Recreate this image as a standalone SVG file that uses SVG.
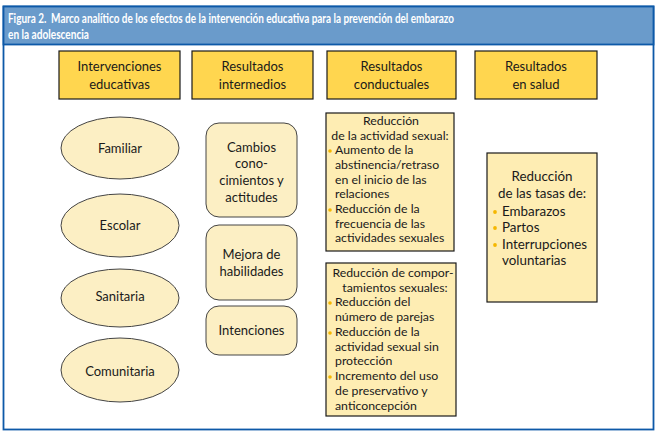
<svg xmlns="http://www.w3.org/2000/svg" width="657" height="435" viewBox="0 0 657 435">
<style>
text{font-family:Lato,"Open Sans","Liberation Sans",sans-serif;fill:#1a1a1a}
.t{font-size:13px}
.s{font-size:12.3px}
.m{font-size:13.4px}
.c{text-anchor:middle}
.hd{fill:#FFD64F;stroke:#1a1a1a;stroke-width:1.2}
.pl{fill:#FCEFC4;stroke:#444;stroke-width:1}
.bx{fill:#FEEDB3;stroke:#1a1a1a;stroke-width:1.2}
.b{fill:#F5B700}
.title{font-size:13.5px;font-weight:bold;fill:#fff}
</style>
<rect x="0" y="0" width="657" height="435" fill="#fff"/>
<g id="frame">
<rect x="3.5" y="6.5" width="650" height="423" fill="#fff" stroke="#0D59A8" stroke-width="1.8"/>
<rect x="3.5" y="6.5" width="650" height="38" fill="#6A9BCB" stroke="#0D59A8" stroke-width="1.8"/>
<text class="title" x="8" y="23" textLength="446" lengthAdjust="spacingAndGlyphs" xml:space="preserve">Figura 2.  Marco analítico de los efectos de la intervención educativa para la prevención del embarazo</text>
<text class="title" x="8" y="39" textLength="81" lengthAdjust="spacingAndGlyphs">en la adolescencia</text>
</g>
<g id="connectors"></g>
<g id="h1"><rect class="hd" x="59" y="51" width="121" height="48"/><text class="t c" x="119.5" y="71">Intervenciones</text><text class="t c" x="119.5" y="89">educativas</text></g>
<g id="h2"><rect class="hd" x="192" y="51" width="121" height="48"/><text class="t c" x="252.5" y="71">Resultados</text><text class="t c" x="252.5" y="89">intermedios</text></g>
<g id="h3"><rect class="hd" x="327" y="51" width="129" height="48"/><text class="t c" x="391.5" y="71">Resultados</text><text class="t c" x="391.5" y="89">conductuales</text></g>
<g id="h4"><rect class="hd" x="475" y="51" width="122" height="48"/><text class="t c" x="536" y="71">Resultados</text><text class="t c" x="536" y="89">en salud</text></g>
<g id="familiar"><ellipse class="pl" cx="120" cy="148" rx="59" ry="31"/><text class="t c" x="120" y="152.5">Familiar</text></g>
<g id="escolar"><ellipse class="pl" cx="120" cy="225.5" rx="59" ry="31.5"/><text class="t c" x="120" y="230">Escolar</text></g>
<g id="sanitaria"><ellipse class="pl" cx="120" cy="298" rx="59" ry="29"/><text class="t c" x="120" y="300.5">Sanitaria</text></g>
<g id="comunitaria"><ellipse class="pl" cx="120" cy="370" rx="59" ry="32"/><text class="t c" x="120" y="376">Comunitaria</text></g>
<g id="cambios"><rect class="pl" x="206" y="123" width="91" height="94" rx="13"/><text class="t c" x="251.5" y="152">Cambios</text><text class="t c" x="251.5" y="168">cono-</text><text class="t c" x="251.5" y="185">cimientos y</text><text class="t c" x="251.5" y="202">actitudes</text></g>
<g id="mejora"><rect class="pl" x="206" y="225" width="91" height="75" rx="13"/><text class="t c" x="251.5" y="259">Mejora de</text><text class="t c" x="251.5" y="276">habilidades</text></g>
<g id="intenciones"><rect class="pl" x="206" y="306" width="91" height="49" rx="13"/><text class="t c" x="251.5" y="335">Intenciones</text></g>
<g id="conductual1"><rect class="bx" x="326" y="113" width="128" height="138"/>
<text class="s c" x="391" y="125">Reducción</text>
<text class="s c" x="390" y="140">de la actividad sexual:</text>
<circle class="b" cx="330" cy="151" r="1.8"/><text class="s" x="335" y="154">Aumento de la</text>
<text class="s" x="335" y="169">abstinencia/retraso</text>
<text class="s" x="335" y="184">en el inicio de las</text>
<text class="s" x="335" y="198">relaciones</text>
<circle class="b" cx="330" cy="210" r="1.8"/><text class="s" x="335" y="213">Reducción de la</text>
<text class="s" x="335" y="228">frecuencia de las</text>
<text class="s" x="335" y="242">actividades sexuales</text>
</g>
<g id="conductual2"><rect class="bx" x="326" y="263" width="130" height="153"/>
<text class="s c" x="393" y="277">Reducción de compor-</text>
<text class="s c" x="395" y="292">tamientos sexuales:</text>
<circle class="b" cx="330" cy="303" r="1.8"/><text class="s" x="335" y="306">Reducción del</text>
<text class="s" x="335" y="321">número de parejas</text>
<circle class="b" cx="330" cy="333" r="1.8"/><text class="s" x="335" y="336">Reducción de la</text>
<text class="s" x="335" y="351">actividad sexual sin</text>
<text class="s" x="335" y="365">protección</text>
<circle class="b" cx="330" cy="377" r="1.8"/><text class="s" x="335" y="380">Incremento del uso</text>
<text class="s" x="335" y="395">de preservativo y</text>
<text class="s" x="335" y="410">anticoncepción</text>
</g>
<g id="salud"><rect class="bx" x="487" y="153" width="110" height="149"/>
<text class="m c" x="542" y="181">Reducción</text>
<text class="m c" x="542" y="198">de las tasas de:</text>
<circle class="b" cx="495" cy="212" r="1.9"/><text class="m" x="502" y="216">Embarazos</text>
<circle class="b" cx="495" cy="228" r="1.9"/><text class="m" x="502" y="232">Partos</text>
<circle class="b" cx="495" cy="245" r="1.9"/><text class="m" x="502" y="249">Interrupciones</text>
<text class="m" x="502" y="265">voluntarias</text>
</g>
</svg>
